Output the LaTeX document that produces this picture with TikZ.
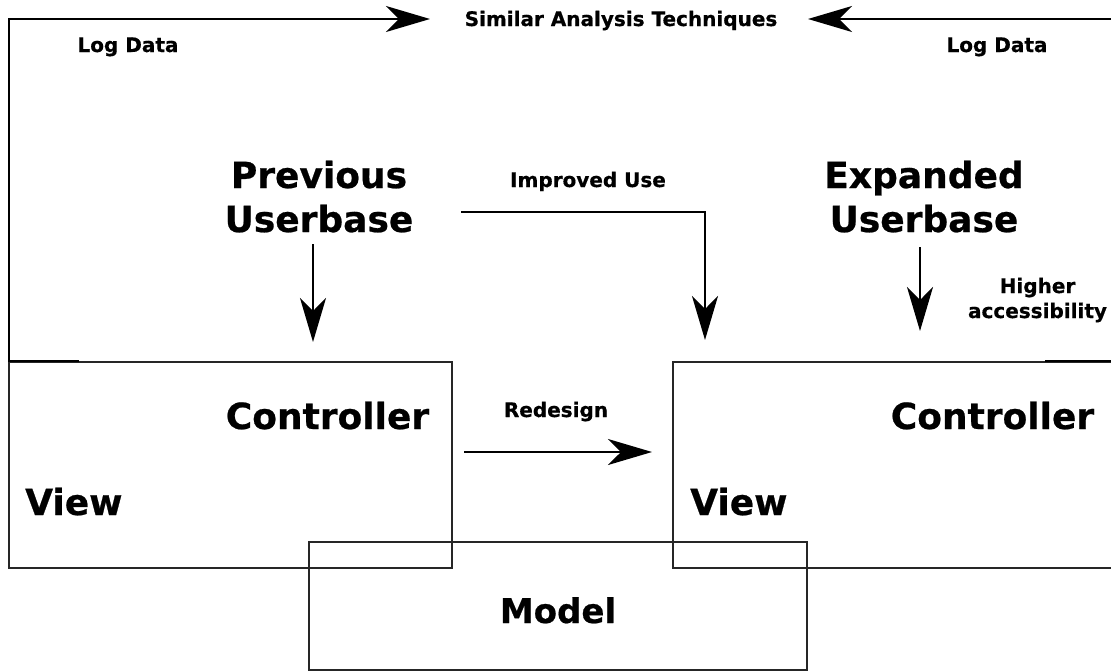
\documentclass[tikz,border=0pt]{standalone}
\usepackage{fontspec}
\setmainfont{DejaVu Sans}[BoldFeatures={FakeBold=0.6}]
\usetikzlibrary{arrows.meta}
\begin{document}
\begin{tikzpicture}[x=1pt,y=-1pt,
  lbl/.style={font=\bfseries\fontsize{20}{24}\selectfont, inner sep=0pt, anchor=base},
  big/.style={font=\bfseries\fontsize{36}{44}\selectfont, inner sep=0pt, anchor=base},
  box/.style={draw=black!85, line width=2pt, inner sep=0pt},
  wire/.style={draw=black, line width=2.2pt},
  arr/.style={wire, -{Stealth[length=44pt,width=26pt,inset=13pt]}}]

\path[use as bounding box] (0,0) rectangle (1111,670);
\clip (0,0) rectangle (1111,670);

% MVC blocks
\node[box, minimum width=443pt, minimum height=206pt] (oldmvc) at (230.5,465) {};
\node[box, minimum width=527pt, minimum height=206pt] (newmvc) at (936.5,465) {};
\node[box, minimum width=498pt, minimum height=128pt] (model) at (558,606) {};

\node[big] (oldctrl) at (327.5,429) {Controller};
\node[big, anchor=base west] (oldview) at (25,515) {View};
\node[big] (newctrl) at (992.5,429) {Controller};
\node[big, anchor=base west] (newview) at (690,515) {View};
\node[big, font=\bfseries\fontsize{34}{40}\selectfont] (modeltxt) at (558,623) {Model};

% user bases
\node[big] (prev1) at (319,188) {Previous};
\node[big] (prev2) at (319,232) {Userbase};
\node[big] (exp1) at (924,188) {Expanded};
\node[big] (exp2) at (924,232) {Userbase};

% small labels
\node[lbl] (sim) at (621,26) {Similar Analysis Techniques};
\node[lbl] (logL) at (128,52) {Log Data};
\node[lbl] (logR) at (997,52) {Log Data};
\node[lbl] (improved) at (588,187) {Improved Use};
\node[lbl] (redesign) at (556,417) {Redesign};
\node[lbl] (higher1) at (1037.5,293) {Higher};
\node[lbl] (higher2) at (1037.5,318) {accessibility};

% connector end points
\coordinate (lA) at (79,361);
\coordinate (lB) at (9,361);
\coordinate (lC) at (9,19);
\coordinate (lTip) at (430,19);
\coordinate (rA) at (1045,361);
\coordinate (rB) at (1130,361);
\coordinate (rC) at (1130,19);
\coordinate (rTip) at (808,19);
\coordinate (prevFrom) at (313,244);
\coordinate (prevTip) at (313,342);
\coordinate (expFrom) at (920,247);
\coordinate (expTip) at (920,331);
\coordinate (impFrom) at (461,212);
\coordinate (impCorner) at (705,212);
\coordinate (impTip) at (705,340);
\coordinate (redFrom) at (464,452);
\coordinate (redTip) at (652,452);

% connectors
\draw[arr] (lA) -- (lB) -- (lC) -- (lTip);
\draw[arr] (rA) -- (rB) -- (rC) -- (rTip);
\draw[arr] (prevFrom) -- (prevTip);
\draw[arr] (expFrom) -- (expTip);
\draw[arr] (impFrom) -- (impCorner) -- (impTip);
\draw[arr] (redFrom) -- (redTip);
\end{tikzpicture}
\end{document}
